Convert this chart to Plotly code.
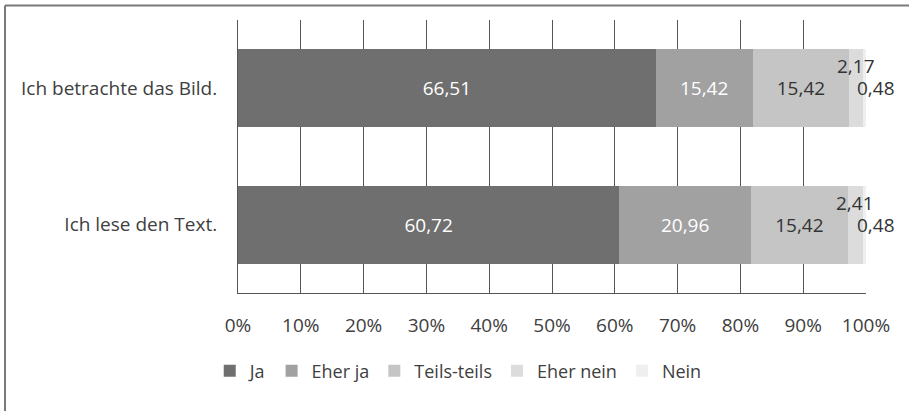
import plotly.graph_objects as go

# Survey statements (top to bottom) and answer categories
statements = ["Ich betrachte das Bild.", "Ich lese den Text."]
answers = ["Ja", "Eher ja", "Teils-teils", "Eher nein", "Nein"]

# Shares in percent per answer, one value per statement
ja = [66.51, 60.72]
eher_ja = [15.42, 20.96]
teils_teils = [15.42, 15.42]
eher_nein = [2.17, 2.41]
nein = [0.48, 0.48]

tick_vals = [0, 10, 20, 30, 40, 50, 60, 70, 80, 90, 100]
tick_text = [f"{v}%" for v in tick_vals]

series = [ja, eher_ja, teils_teils, eher_nein, nein]
colors = ["#6f6f6f", "#a1a1a1", "#c5c5c5", "#dcdcdc", "#efefef"]
inside_text_colors = ["#ffffff", "#ffffff", "#333333", None, None]

FONT = "Open Sans"
FS = 19
fig = go.Figure()

for name, vals, col, tcol in zip(answers, series, colors, inside_text_colors):
    fig.add_trace(go.Bar(
        name=name,
        y=statements,
        x=vals,
        orientation="h",
        marker=dict(color=col, line=dict(width=0)),
        texttemplate="%{x:.2f}" if tcol else None,
        textposition="inside" if tcol else "none",
        insidetextanchor="middle",
        textfont=dict(family=FONT, size=FS, color=tcol or "#333333"),
        hoverinfo="x+name",
    ))

# Small segments at the bar ends get their labels outside the bar
for i, stmt in enumerate(statements):
    base_en = ja[i] + eher_ja[i] + teils_teils[i]
    fig.add_annotation(
        x=base_en + eher_nein[i] / 2, y=stmt, xref="x", yref="y",
        text=f"{eher_nein[i]:.2f}".replace(".", ","),
        showarrow=False, yshift=22, xshift=0,
        font=dict(family=FONT, size=FS, color="#333333"),
    )
    base_n = base_en + eher_nein[i]
    fig.add_annotation(
        x=base_n + nein[i] / 2, y=stmt, xref="x", yref="y",
        text=f"{nein[i]:.2f}".replace(".", ","),
        showarrow=False, yshift=0, xshift=12,
        font=dict(family=FONT, size=FS, color="#333333"),
    )

# Outer frame of the chart: only its top and left edges fall on the canvas
frame = dict(color="#7a7a7a", width=2)
fig.add_shape(type="line", xref="paper", yref="paper",
              x0=-0.371, x1=1.25, y0=1.053, y1=1.053, line=frame, layer="below")
fig.add_shape(type="line", xref="paper", yref="paper",
              x0=-0.371, x1=-0.371, y0=-0.8, y1=1.053, line=frame, layer="below")

fig.update_layout(
    width=909, height=411,
    margin=dict(l=238, r=43, t=20, b=118),
    paper_bgcolor="white", plot_bgcolor="white",
    barmode="stack", bargap=0.43,
    separators=",.",
    font=dict(family=FONT, size=FS, color="#404040"),
    showlegend=True,
    legend=dict(
        orientation="h", x=-0.045, xanchor="left", y=-0.286, yanchor="middle",
        font=dict(family=FONT, size=18, color="#404040"),
        traceorder="normal", itemclick=False, itemdoubleclick=False,
        itemwidth=30,
    ),
    xaxis=dict(
        range=[0, 100], tickvals=tick_vals, ticktext=tick_text,
        showgrid=True, gridcolor="#555555", gridwidth=1,
        showline=True, linecolor="#555555", linewidth=1,
        zeroline=False, ticks="", ticklabelstandoff=15,
        tickfont=dict(family=FONT, size=FS, color="#404040"),
        fixedrange=True,
    ),
    yaxis=dict(
        autorange="reversed", showgrid=False, zeroline=False,
        showline=True, linecolor="#555555", linewidth=1,
        ticks="", ticklabelstandoff=16,
        tickfont=dict(family=FONT, size=FS, color="#404040"),
        fixedrange=True,
    ),
)

fig.write_html("out.html")
